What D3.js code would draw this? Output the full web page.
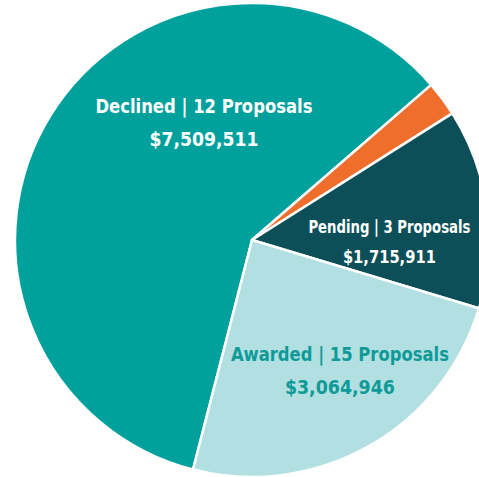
<!DOCTYPE html>
<html>
<head>
<meta charset="utf-8">
<script src="https://cdn.jsdelivr.net/npm/d3@7"></script>
<style>
  html, body { margin: 0; padding: 0; background: #fff; overflow: hidden; }
  #chart text { font-family: "DejaVu Sans Condensed", "Liberation Sans Narrow", "Roboto Condensed", Roboto, sans-serif; font-weight: bold; }
</style>
</head>
<body>
<div id="chart"></div>
<script>
// data
var categories = ["Declined", "Withdrawn", "Pending", "Awarded"];
var proposals  = [12, null, 3, 15];
var amounts    = [7509511, 300000, 1715911, 3064946];

// look
var colors     = ["#00a19c", "#ef6e2c", "#0c4f58", "#b2dfe2"];
var labelFill  = ["#ffffff", "#ffffff", "#ffffff", "#0e9b97"];
// label anchor: [radius fraction, angle shift in degrees, font size, line1 width, line2 width]
var labelStyle = [
  [0.56, 37, 20, 217, 109],
  null,
  [0.58, 6, 18, 162, 93],
  [0.64, -6, 20, 218, 110]
];

var width = 479, height = 477,
    cx = 252, cy = 240, radius = 237;

var svg = d3.select("#chart")
  .append("svg")
    .attr("width", width)
    .attr("height", height)
  .append("g")
    .attr("transform", "translate(" + cx + "," + cy + ")");

var data = categories.map(function(c, i){
  return {name: c, n: proposals[i], value: amounts[i], i: i};
});

var start = 194.4 * Math.PI / 180;
var pie = d3.pie()
  .sort(null)
  .value(function(d){ return d.value; })
  .startAngle(start)
  .endAngle(start + 2 * Math.PI);

var arcs = pie(data);

var arc = d3.arc().innerRadius(0).outerRadius(radius);

svg.selectAll("path.slice")
  .data(arcs)
  .enter()
  .append("path")
    .attr("class", "slice")
    .attr("d", arc)
    .attr("fill", function(d){ return colors[d.data.i]; })
    .attr("stroke", "#fff")
    .attr("stroke-width", 2.5)
    .attr("stroke-linejoin", "round");

var fmt = d3.format(",");

var labels = svg.selectAll("g.label")
  .data(arcs.filter(function(d){ return labelStyle[d.data.i]; }))
  .enter()
  .append("g")
    .attr("class", "label")
    .attr("transform", function(d){
      var s = labelStyle[d.data.i];
      var a = (d.startAngle + d.endAngle) / 2 + s[1] * Math.PI / 180;
      var r = radius * s[0];
      return "translate(" + (Math.sin(a) * r) + "," + (-Math.cos(a) * r) + ")";
    });

labels.append("text")
  .attr("text-anchor", "middle")
  .attr("y", -3)
  .attr("fill", function(d){ return labelFill[d.data.i]; })
  .style("font-size", function(d){ return labelStyle[d.data.i][2] + "px"; })
  .attr("textLength", function(d){ return labelStyle[d.data.i][3]; })
  .attr("lengthAdjust", "spacingAndGlyphs")
  .text(function(d){ return d.data.name + " | " + d.data.n + " Proposals"; });

labels.append("text")
  .attr("text-anchor", "middle")
  .attr("y", function(d){ return labelStyle[d.data.i][2] * 1.5; })
  .attr("fill", function(d){ return labelFill[d.data.i]; })
  .style("font-size", function(d){ return labelStyle[d.data.i][2] + "px"; })
  .attr("textLength", function(d){ return labelStyle[d.data.i][4]; })
  .attr("lengthAdjust", "spacingAndGlyphs")
  .text(function(d){ return "$" + fmt(d.data.value); });
</script>
</body>
</html>
